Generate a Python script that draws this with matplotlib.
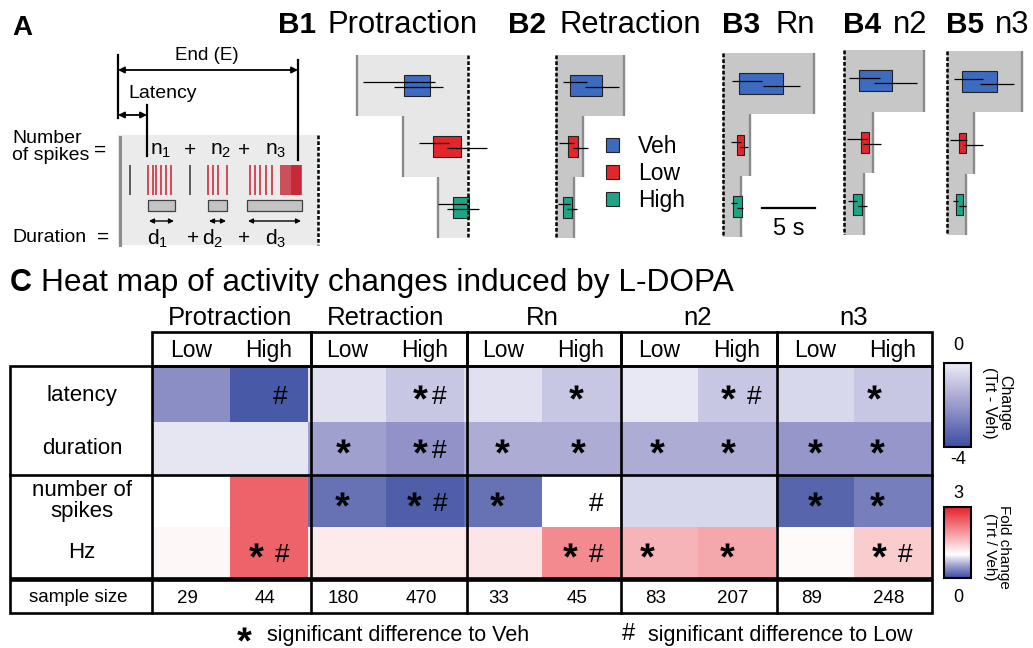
import numpy as np
import matplotlib
matplotlib.use('Agg')
import matplotlib.pyplot as plt
from matplotlib.colors import LinearSegmentedColormap, Normalize
from matplotlib.patches import Rectangle, Patch
from matplotlib.textpath import TextPath
from matplotlib.font_manager import FontProperties
from matplotlib.path import Path
import matplotlib.cm as cm

plt.rcParams['font.family'] = ['Liberation Sans', 'DejaVu Sans']
plt.rcParams['mathtext.default'] = 'regular'

# ---------------- data ----------------
groups = ['Protraction', 'Retraction', 'Rn', 'n2', 'n3']
doses = ['Low', 'High']
conditions = ['Veh', 'Low', 'High']
panel_ids = ['B1', 'B2', 'B3', 'B4', 'B5']
row_labels = ['latency', 'duration', 'number of\nspikes', 'Hz']

# Panel B (seconds, relative to dashed reference line); rows Veh, Low, High
b_phase_end = [[-10.5, -6.1, -2.8], [6.4, 2.5, 1.7], [8.6, 2.5, 1.7], [7.5, 2.7, 1.9], [7.1, 2.5, 1.8]]
b_start = [[-6.0, -3.3, -1.4], [1.3, 1.1, 0.7], [1.5, 1.3, 0.9], [1.4, 1.6, 0.85], [1.4, 1.1, 0.85]]
b_end = [[-3.6, -0.65, 0.1], [4.3, 2.1, 1.5], [5.7, 2.0, 1.8], [4.5, 2.4, 1.7], [4.7, 1.8, 1.5]]
b_start_lo = [[-9.9, -4.6, -2.8], [0.66, 0.3, 0.2], [0.85, 0.75, 0.8], [0.5, 0.3, 0.4], [0.7, 0.3, 0.6]]
b_start_hi = [[-3.1, -1.8, -0.1], [2.9, 1.7, 1.3], [3.7, 1.7, 1.3], [3.4, 2.2, 1.2], [3.4, 1.9, 1.0]]
b_end_lo = [[-7.0, -2.0, -2.0], [2.7, 1.6, 1.0], [3.8, 1.6, 1.3], [2.8, 1.8, 1.3], [3.1, 1.5, 1.1]]
b_end_hi = [[-2.4, 1.8, 1.0], [5.9, 3.0, 2.0], [7.3, 2.4, 1.9], [6.9, 3.5, 2.2], [6.3, 3.4, 1.8]]
scale_bar_s = 5

# Panel C heat map (columns: Prot Low, Prot High, Retr Low, Retr High, Rn L, Rn H, n2 L, n2 H, n3 L, n3 H)
change_latency = [-2.3, -3.7, -0.3, -0.9, -0.3, -0.9, -0.1, -0.9, -0.5, -0.9]
change_duration = [-0.15, -0.15, -1.85, -2.2, -1.55, -1.55, -1.55, -1.55, -2.1, -2.1]
fold_spikes = [1.0, 2.4, 0.24, 0.11, 0.24, 1.0, 0.8, 0.8, 0.16, 0.32]
fold_hz = [1.07, 2.4, 1.18, 1.18, 1.24, 2.05, 1.67, 1.78, 1.05, 1.46]
sample_size = [29, 44, 180, 470, 33, 45, 83, 207, 89, 248]
sig_latency = ['', '#', '', '*#', '', '*', '', '* #', '', '*']
sig_duration = ['', '', '*', '*#', '*', '*', '*', '*', '*', '*']
sig_spikes = ['', '', '*', '* #', '*', '#', '', '', '*', '*']
sig_hz = ['', '* #', '', '', '', '* #', '*', '*', '', '* #']

# Panel A schematic (spike times, arbitrary units)
other_spikes = [130, 190]
burst_spikes = [148.3, 152.7, 156, 160.7, 165.7, 170.7,
                208.3, 213.3, 218.3, 226.7,
                250, 255, 260, 266, 271.7, 280.7, 282.7, 285, 287.3, 289.3,
                291, 292, 293, 294, 295, 296, 297, 298, 299, 300, 301]
burst_on = [148, 208, 247]
burst_off = [175, 227, 302]

# ---------------- layout helpers ----------------
W, H = 1033, 648
fig = plt.figure(figsize=(W / 100, H / 100), dpi=100)


def px_axes(x0, y0, x1, y1):
    return fig.add_axes([x0 / W, 1 - y1 / H, (x1 - x0) / W, (y1 - y0) / H])


# bold asterisk glyph as a centred marker path
_tp = TextPath((0, 0), '*', size=10, prop=FontProperties(family='Liberation Sans', weight='bold'))
_v = _tp.vertices.copy()
_codes = _tp.codes
_m = _codes != Path.CLOSEPOLY
_ctr = 0.5 * (_v[_m].min(axis=0) + _v[_m].max(axis=0))
_v = _v - _ctr
_v[~_m] = 0.0
STAR_MARKER = Path(_v, _codes)

HASH_PT = 19
HASH_DROP = 0.34 * HASH_PT * 100 / 72   # px from baseline up to the '#' glyph centre


def draw_star(ax, x, y, ms=10.5):
    # y axes run downwards in pixels; lift the glyph slightly to line up with '#'
    ax.plot([x], [y - 3], ls='none', marker=STAR_MARKER, ms=ms, color='k', mew=0)


def draw_hash(ax, x, y):
    ax.text(x, y + HASH_DROP, '#', ha='center', va='baseline', fontsize=HASH_PT)


# ---------------- Panel B ----------------
pps = 10.6
dash_px = [468, 556, 723, 844, 947]
top_px = [55, 55, 53, 50, 51]
bot_px = [238, 238, 237, 235, 235]
box_cols = ['#3d6bbf', '#e2262b', '#1fa586']
rows = np.arange(3)
for p in range(5):
    d = dash_px[p]
    x0, x1 = (340, 490) if p == 0 else (d - 8, d + 100)
    ax = px_axes(x0, top_px[p], x1, bot_px[p])
    ax.set_xlim((x0 - d) / pps, (x1 - d) / pps)
    ax.set_ylim(3, 0)
    ax.axis('off')
    bg = '#e7e7e8' if p == 0 else '#c7c7c8'
    ax.barh(rows + 0.5, b_phase_end[p], height=1.0, left=0, color=bg, lw=0, zorder=0)
    ax.vlines(b_phase_end[p], rows, rows + 1, color='#8a8a8a', lw=1.7, zorder=1)
    ax.vlines(0, 0, 3, color='k', lw=1.8, linestyles=(0, (1.5, 0.8)), zorder=4)
    st = np.array(b_start[p]); en = np.array(b_end[p])
    ax.barh(rows + 0.5, en - st, left=st, height=0.34, color=box_cols,
            edgecolor='#222222', lw=0.8, zorder=2)
    ax.hlines(rows + 0.45, b_start_lo[p], b_start_hi[p], color='k', lw=0.9, zorder=3)
    ax.hlines(rows + 0.53, b_end_lo[p], b_end_hi[p], color='k', lw=0.9, zorder=3)
    if p == 2:
        ax.plot([3.7, 3.7 + scale_bar_s], [2.53, 2.53], color='k', lw=1.6)
        ax.text(3.7 + scale_bar_s / 2, 2.87, f'{scale_bar_s} s', ha='center', va='center',
                fontsize=17)

fig.legend([Patch(facecolor=c, edgecolor='#222222', lw=0.8) for c in box_cols], conditions,
           loc='upper left', bbox_to_anchor=(606 / W, 1 - 135 / H), frameon=False,
           fontsize=16.5, handlelength=0.55, handleheight=0.55, labelspacing=0.17,
           handletextpad=0.85, borderpad=0, borderaxespad=0)

# ---------------- Panel C heat map ----------------
cmap_change = LinearSegmentedColormap.from_list(
    'chg', [(0, '#3a4ea0'), (0.5, '#9a9acc'), (1, '#ececf6')])
cmap_fold = LinearSegmentedColormap.from_list(
    'fold', [(0, '#3a4ea0'), (1 / 6, '#9a9acc'), (1 / 3, '#ffffff'), (1, '#e6202a')])
norm_change = Normalize(-4, 0)
norm_fold = Normalize(0, 3)

row_edges = [366, 422, 475, 527, 578]          # pixel rows of the heat map
col_px = 78.0
sig_xfrac = [[0, 0.64, 0, 0.56, 0, 0.44, 0, 0.55, 0, 0.25],
             [0, 0, 0.45, 0.56, 0.49, 0.46, 0.47, 0.38, 0.5, 0.3],
             [0, 0, 0.44, 0.53, 0.42, 0.7, 0, 0, 0.5, 0.3],
             [0, 0.5, 0, 0, 0, 0.53, 0.35, 0.37, 0, 0.49]]

hx = px_axes(152, row_edges[0], 932, row_edges[-1])
ncol = len(sample_size)
hx.set_xlim(0, ncol); hx.set_ylim(row_edges[-1], row_edges[0]); hx.axis('off')
xe = np.arange(ncol + 1)
hx.pcolormesh(xe, row_edges[:3], np.array([change_latency, change_duration]),
              cmap=cmap_change, norm=norm_change)
hx.pcolormesh(xe, row_edges[2:], np.array([fold_spikes, fold_hz]),
              cmap=cmap_fold, norm=norm_fold)
sig_all = [sig_latency, sig_duration, sig_spikes, sig_hz]
for r, sig in enumerate(sig_all):
    yc = 0.5 * (row_edges[r] + row_edges[r + 1]) + 1
    for c, s in enumerate(sig):
        if not s:
            continue
        xc = c + sig_xfrac[r][c]
        if '*' in s and '#' in s:
            half = (13 if ' ' in s else 10) / col_px
            draw_star(hx, xc - half, yc)
            draw_hash(hx, xc + half, yc)
        elif '*' in s:
            draw_star(hx, xc, yc)
        else:
            draw_hash(hx, xc, yc)

# header row (Low / High) and group titles
hh = px_axes(152, 332, 932, 366)
hh.set_xlim(0, ncol); hh.set_ylim(1, 0); hh.axis('off')
for c in range(ncol):
    hh.text(c + 0.5, 0.55, doses[c % 2], ha='center', va='center', fontsize=16.5)
for g, name in enumerate(groups):
    hh.text(2 * g + 1, -0.42, name, ha='center', va='center', fontsize=18.5)

# sample size row
hs = px_axes(152, 580, 932, 613)
hs.set_xlim(0, ncol); hs.set_ylim(1, 0); hs.axis('off')
for c, n in enumerate(sample_size):
    hs.text(c + 0.45, 0.55, str(n), ha='center', va='center', fontsize=13.5)

# colorbars
cb1 = px_axes(944, 363, 971, 447)
f1 = fig.colorbar(cm.ScalarMappable(norm=norm_change, cmap=cmap_change), cax=cb1)
cb2 = px_axes(944, 507, 971, 578)
f2 = fig.colorbar(cm.ScalarMappable(norm=norm_fold, cmap=cmap_fold), cax=cb2)
for f in (f1, f2):
    f.set_ticks([])
    f.outline.set_linewidth(1.5)

# ---------------- overlay (panel A, labels, table lines) ----------------
ov = fig.add_axes([0, 0, 1, 1])
ov.set_xlim(0, W); ov.set_ylim(H, 0); ov.axis('off')
ov.patch.set_alpha(0)

# titles
ov.text(12, 28, 'A', fontsize=20, fontweight='bold', va='center')
b_title_x = [(278, 328), (508, 560), (722, 775), (843, 893), (946, 995)]
b_names = ['Protraction', 'Retraction', 'Rn', 'n2', 'n3']
for (xb, xn), pid, nm in zip(b_title_x, panel_ids, b_names):
    ov.text(xb, 25, pid, fontsize=21.5, fontweight='bold', va='center')
    ov.text(xn, 25, nm, fontsize=22.3, va='center')
ov.text(10, 283, 'C', fontsize=22, fontweight='bold', va='center')
ov.text(41, 283, 'Heat map of activity changes induced by L-DOPA', fontsize=22.8, va='center')

# Panel A schematic
ov.add_patch(Rectangle((118, 135), 200, 110, color='#ebebeb', lw=0, zorder=0))
ov.plot([119.5, 119.5], [137, 245], color='#8c8c8c', lw=2.2)
ov.plot([318, 318], [135, 245], color='k', lw=1.8, ls=(0, (1.5, 0.8)))
ov.plot([118, 118], [55, 118], color='k', lw=1.6)
ov.plot([147, 147], [105, 156], color='k', lw=1.6)
ov.plot([298, 298], [60, 160], color='k', lw=1.6)
arrow = dict(arrowstyle='<|-|>', lw=1.3, color='k', mutation_scale=9, shrinkA=0, shrinkB=0)
ov.annotate('', xy=(298, 70), xytext=(118, 70), arrowprops=arrow)
ov.annotate('', xy=(147, 115), xytext=(118, 115), arrowprops=arrow)
ov.text(207, 56, 'End (E)', ha='center', va='center', fontsize=13.5)
ov.text(163, 93, 'Latency', ha='center', va='center', fontsize=14)
ov.text(12, 147, 'Number\nof spikes', ha='left', va='center', fontsize=14, linespacing=1.05)
ov.text(100, 150, '=', ha='center', va='center', fontsize=15)
ov.text(12, 237, 'Duration', ha='left', va='center', fontsize=14)
ov.text(103, 237, '=', ha='center', va='center', fontsize=15)
for x, s in zip([161, 190, 221, 244, 276], ['n$_{1}$', '+', 'n$_{2}$', '+', 'n$_{3}$']):
    ov.text(x, 150, s, ha='center', va='center', fontsize=15)
for x, s in zip([158, 193, 213, 244, 276], ['d$_{1}$', '+', 'd$_{2}$', '+', 'd$_{3}$']):
    ov.text(x, 239, s, ha='center', va='center', fontsize=15)
ov.vlines(other_spikes, 165, 195, color='#333333', lw=1.1)
ov.vlines(burst_spikes, 165, 195, color='#c4202e', lw=1.1)
for a, b in zip(burst_on, burst_off):
    ov.add_patch(Rectangle((a, 200), b - a, 11, facecolor='#c3c3c3', edgecolor='#404040', lw=0.9))
    ov.annotate('', xy=(b - 1, 221), xytext=(a + 1, 221),
                arrowprops=dict(arrowstyle='<|-|>', lw=1.0, color='k', mutation_scale=7,
                                shrinkA=0, shrinkB=0))

# table lines
LW = 1.9
gx = [152, 311, 467, 621, 777, 932]
for a, b in zip(gx[:-1], gx[1:]):
    ov.add_patch(Rectangle((a, 332), b - a, 34, fill=False, lw=LW, zorder=5))
ov.add_patch(Rectangle((10, 366), 922, 212, fill=False, lw=LW, zorder=5))
ov.plot([10, 932], [475, 475], color='k', lw=LW, zorder=5)
ov.add_patch(Rectangle((10, 580), 922, 33, fill=False, lw=LW, zorder=5))
for x in gx[:-1]:
    ov.plot([x, x], [366, 578], color='k', lw=LW, zorder=5)
    ov.plot([x, x], [580, 613], color='k', lw=LW, zorder=5)

# row labels
for lab, y in zip(row_labels, [396, 448, 501, 553]):
    ov.text(82, y, lab, ha='center', va='center', fontsize=16, linespacing=1.05)
ov.text(78, 598, 'sample size', ha='center', va='center', fontsize=13.5)

# colorbar labels
ov.text(958, 346, '0', ha='center', va='center', fontsize=13)
ov.text(958, 460, '-4', ha='center', va='center', fontsize=13)
ov.text(958, 493, '3', ha='center', va='center', fontsize=13)
ov.text(958, 598, '0', ha='center', va='center', fontsize=13)
ov.text(997, 403, 'Change\n(Trt - Veh)', ha='center', va='center', rotation=270,
        fontsize=11.5, linespacing=1.0)
ov.text(997, 547, 'Fold change\n(Trt / Veh)', ha='center', va='center', rotation=270,
        fontsize=11, linespacing=1.0)

# footnote
draw_star(ov, 244, 637)
ov.text(267, 636, 'significant difference to Veh', ha='left', va='center', fontsize=15.5)
ov.text(628, 634, '#', ha='center', va='center', fontsize=17)
ov.text(648, 636, 'significant difference to Low', ha='left', va='center', fontsize=15.5)

fig.savefig('out.png', dpi=100)
